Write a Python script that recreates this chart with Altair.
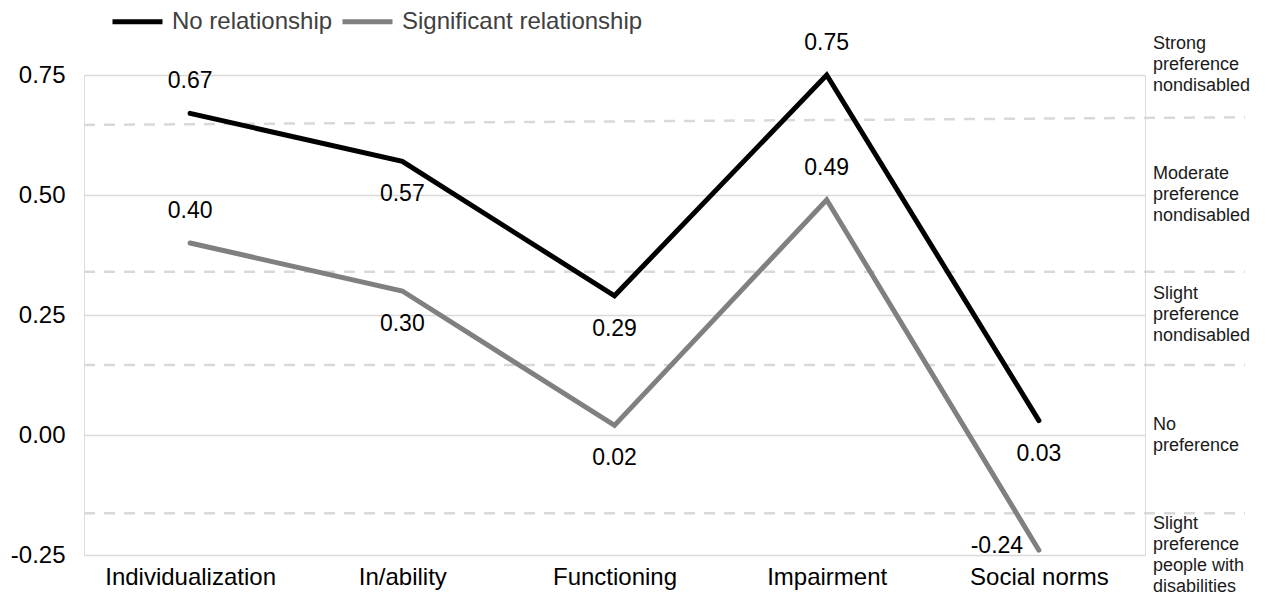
import altair as alt
import pandas as pd

# ---- data ----
categories = ["Individualization", "In/ability", "Functioning", "Impairment", "Social norms"]
series_names = ["No relationship", "Significant relationship"]
no_relationship = [0.67, 0.57, 0.29, 0.75, 0.03]
significant_relationship = [0.40, 0.30, 0.02, 0.49, -0.24]

y_ticks = [-0.25, 0.0, 0.25, 0.5, 0.75]

# dashed zone boundaries (left end, right end)
zone_bound_left = [0.646, 0.34, 0.146, -0.163]
zone_bound_right = [0.662, 0.34, 0.146, -0.163]

# secondary (right-hand) category labels
zone_labels = [
    "Strong\npreference\nnondisabled",
    "Moderate\npreference\nnondisabled",
    "Slight\npreference\nnondisabled",
    "No\npreference",
    "Slight\npreference\npeople with\ndisabilities",
]
zone_label_y = [0.77, 0.5, 0.25, 0.0, -0.25]

# ---- tables ----
rows = []
for s, vals in zip(series_names, [no_relationship, significant_relationship]):
    for c, v in zip(categories, vals):
        rows.append({"category": c, "series": s, "value": v, "label": f"{v:.2f}"})
df = pd.DataFrame(rows)
bounds = pd.DataFrame({"y1": zone_bound_left, "y2": zone_bound_right})
zones = pd.DataFrame({"label": zone_labels, "y": zone_label_y,
                      "n": [len(t.split("\n")) for t in zone_labels]})

FONT = "Liberation Sans"
LH = 21

x_enc = alt.X("category:N", sort=categories,
              scale=alt.Scale(type="point", padding=0.5),
              axis=alt.Axis(title=None, labelAngle=0, labelFontSize=24, labelColor="#000000",
                            labelPadding=10, ticks=False, domain=False, grid=False,
                            labelFont=FONT))
y_scale = alt.Scale(domain=[-0.25, 0.75], nice=False, zero=False)

base = alt.Chart(df)

lines = base.mark_line(strokeWidth=5, strokeCap="round", strokeJoin="miter").encode(
    x=x_enc,
    y=alt.Y("value:Q", scale=y_scale,
            axis=alt.Axis(title=None, values=y_ticks,
                          labelExpr="replace(format(datum.value, '.2f'), '\u2212', '-')",
                          labelFontSize=24, labelColor="#000000", labelPadding=19,
                          ticks=False, domain=False, grid=True, gridColor="#d9d9d9",
                          gridWidth=1.5, labelFont=FONT)),
    color=alt.Color("series:N", sort=series_names,
                    scale=alt.Scale(domain=series_names, range=["#000000", "#808080"]),
                    legend=alt.Legend(title=None, orient="none", direction="horizontal",
                                      legendX=41, legendY=-66,
                                      symbolType="M-2.5,0L2.5,0",
                                      symbolSize=400, symbolStrokeWidth=5,
                                      labelFontSize=24, labelColor="#404040", labelFont=FONT,
                                      labelLimit=0, labelOffset=22, columnPadding=-1,
                                      padding=0)),
)

text_common = dict(fontSize=23, font=FONT, color="#000000")
is_above = "(datum.category == 'Individualization' || datum.category == 'Impairment')"
is_left = "(datum.category == 'Social norms' && datum.series == 'Significant relationship')"

def value_labels(filter_expr, **kw):
    return base.mark_text(**text_common, **kw).encode(
        x=alt.X("category:N", sort=categories),
        y=alt.Y("value:Q", scale=y_scale),
        text="label:N",
    ).transform_filter(filter_expr)

above = value_labels(is_above, dy=-32)
left = value_labels(is_left, dx=-42, dy=-4)
below = value_labels(f"!{is_above} && !{is_left}", dy=33)

dashed = alt.Chart(bounds).mark_rule(color="#d9d9d9", strokeWidth=2.5, strokeDash=[11, 9]).encode(
    x=alt.value(0), x2=alt.value(1161),
    y=alt.Y("y1:Q", scale=y_scale), y2="y2:Q",
)

zone_layers = []
for n in sorted(set(zones["n"])):
    zone_layers.append(
        alt.Chart(zones).mark_text(align="left", baseline="middle", fontSize=18, font=FONT,
                                   lineHeight=LH, lineBreak="\n", color="#1a1a1a",
                                   dy=-(n - 1) * LH / 2).encode(
            x=alt.value(1069), y=alt.Y("y:Q", scale=y_scale), text="label:N",
        ).transform_filter(f"datum.n == {n}")
    )

chart = alt.layer(dashed, lines, above, below, left, *zone_layers).properties(
    width=1061, height=480,
    padding={"left": 76, "top": 67, "right": 114, "bottom": 42},
    autosize=alt.AutoSizeParams(type="none"),
).configure_view(stroke=None).configure(font=FONT)

chart.save("out.html", embed_options={"renderer": "svg", "actions": False})
